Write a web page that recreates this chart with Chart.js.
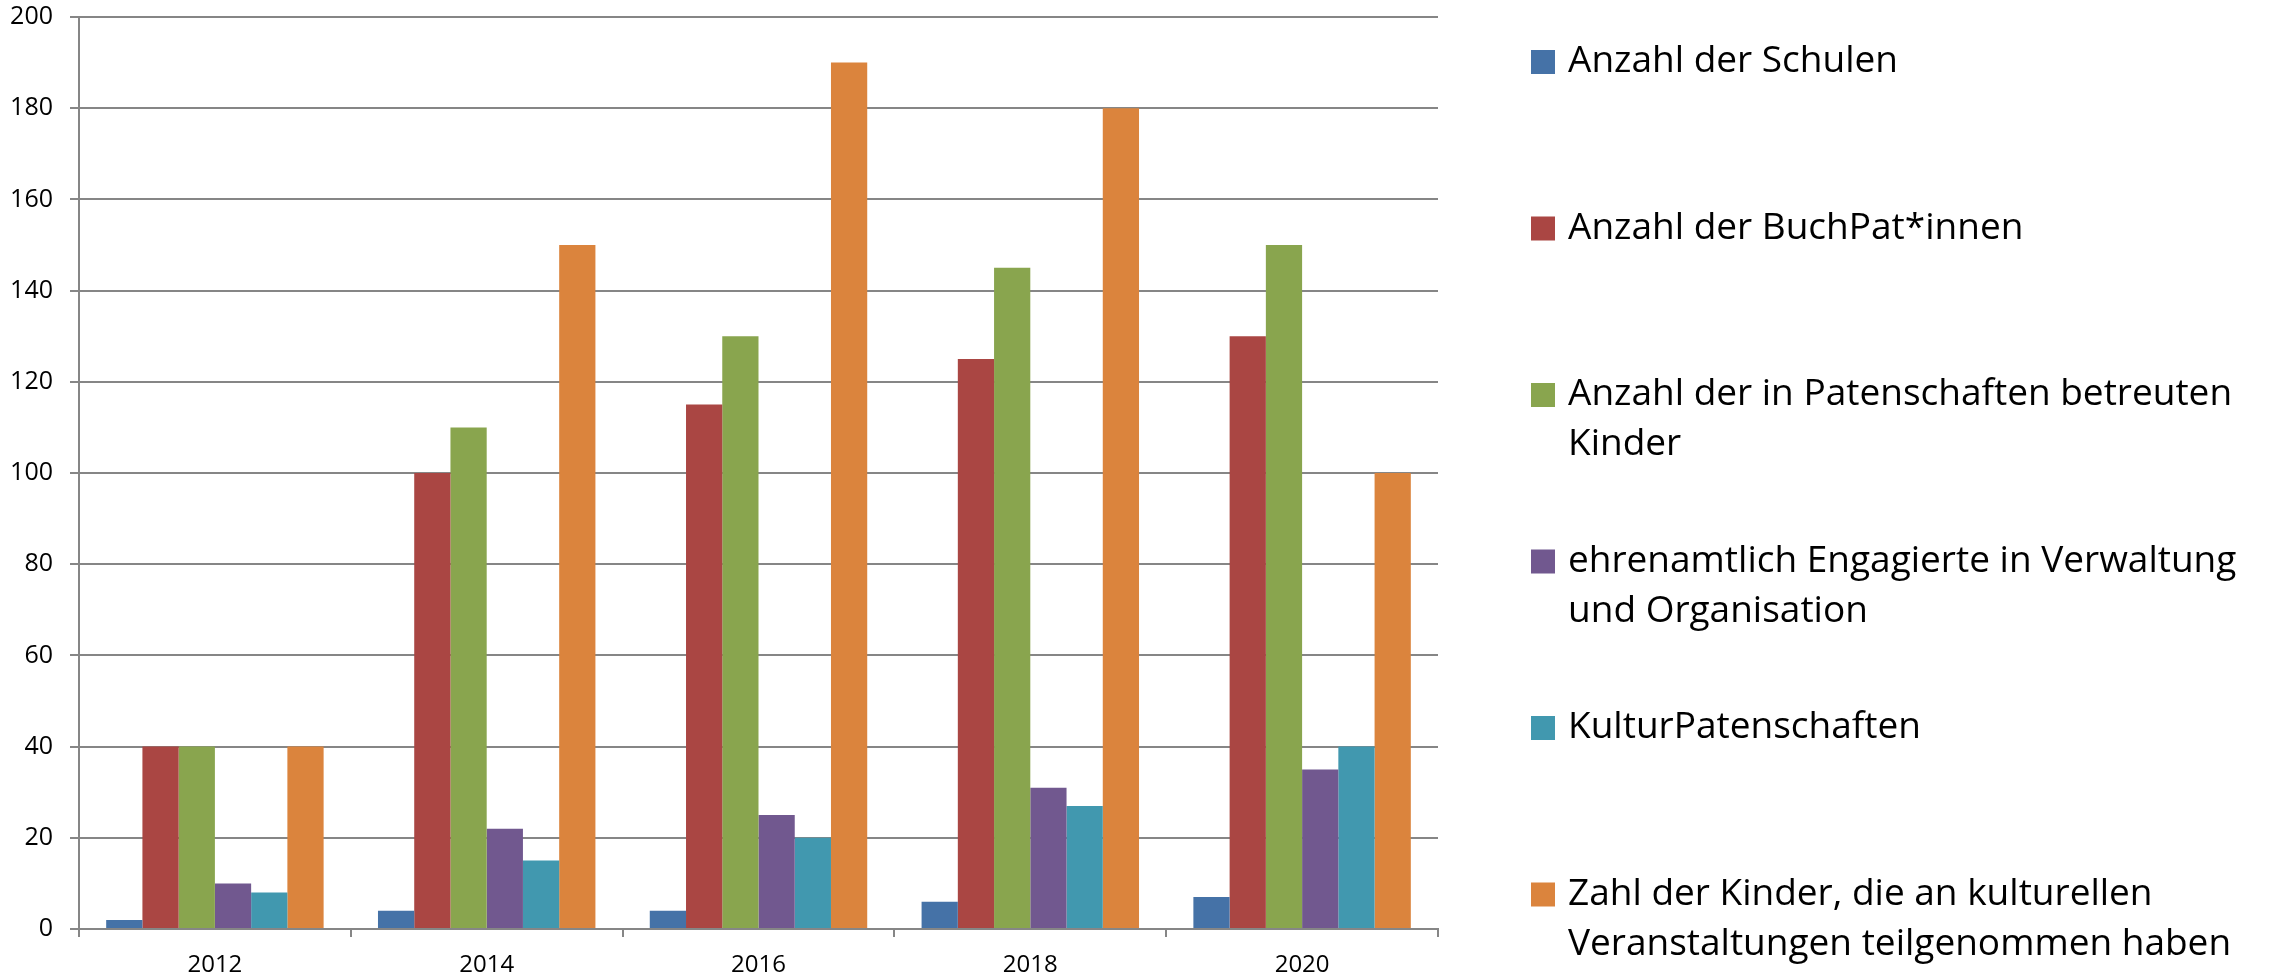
<!DOCTYPE html>
<html lang="de">
  <head>
    <meta charset="UTF-8" />
    <title>BuchPaten: Entwicklung 2012-2020</title>
    <!-- chart.js cdn -->
    <script src="https://cdn.jsdelivr.net/npm/chart.js@4.4.1/dist/chart.umd.min.js"></script>
    <style>
      html, body { margin: 0; padding: 0; background: #fff; }
      canvas { display: block; }
    </style>
  </head>
  <body>
    <canvas id="myChart" width="2270" height="977"></canvas>

    <script>
      // values
      const years = ['2012', '2014', '2016', '2018', '2020'];
      const schulen = [2, 4, 4, 6, 7];
      const buchPaten = [40, 100, 115, 125, 130];
      const betreuteKinder = [40, 110, 130, 145, 150];
      const ehrenamtliche = [10, 22, 25, 31, 35];
      const kulturPatenschaften = [8, 15, 20, 27, 40];
      const kinderVeranstaltungen = [40, 150, 190, 180, 100];

      const yMin = 0;
      const yMax = 200;
      const yStep = 20;

      // legend text, split the way the original wraps it
      const legendLines = [
        ['Anzahl der Schulen'],
        ['Anzahl der BuchPat*innen'],
        ['Anzahl der in Patenschaften betreuten', 'Kinder'],
        ['ehrenamtlich Engagierte in Verwaltung', 'und Organisation'],
        ['KulturPatenschaften'],
        ['Zahl der Kinder, die an kulturellen', 'Veranstaltungen teilgenommen haben']
      ];

      const colors = ['#4572A7', '#AA4643', '#89A54E', '#71588F', '#4198AF', '#DB843D'];
      const series = [schulen, buchPaten, betreuteKinder, ehrenamtliche, kulturPatenschaften, kinderVeranstaltungen];

      const gridColor = '#868686';
      const font = '"Open Sans", "DejaVu Sans", sans-serif';

      // legend on the right, fixed pitch like the original
      const sideLegend = {
        id: 'sideLegend',
        afterDraw(chart) {
          const ctx = chart.ctx;
          const x0 = chart.chartArea.right + 93;
          ctx.save();
          ctx.font = '37px ' + font;
          ctx.textBaseline = 'alphabetic';
          chart.data.datasets.forEach((ds, i) => {
            const cy = 62 + i * 166.5;
            ctx.fillStyle = ds.backgroundColor;
            ctx.fillRect(x0, cy - 12, 24, 24);
            ctx.fillStyle = '#000';
            legendLines[i].forEach((line, j) => {
              ctx.fillText(line, x0 + 37, cy + 10 + j * 50);
            });
          });
          ctx.restore();
        }
      };

      window.addEventListener('load', setup);

      function setup() {
        const ctx = document.getElementById('myChart').getContext('2d');
        const myChart = new Chart(ctx, {
          type: 'bar',
          data: {
            labels: years,
            datasets: series.map((values, i) => ({
              label: legendLines[i].join(' '),
              data: values,
              backgroundColor: colors[i],
              borderWidth: 0,
              categoryPercentage: 0.8,
              barPercentage: 1.0
            }))
          },
          options: {
            responsive: false,
            animation: false,
            layout: {
              padding: { top: 17, right: 832, left: 0, bottom: 0 }
            },
            plugins: {
              legend: { display: false },
              tooltip: { enabled: false }
            },
            scales: {
              x: {
                grid: {
                  offset: true,
                  drawOnChartArea: false,
                  drawTicks: true,
                  tickLength: 8,
                  color: gridColor,
                  lineWidth: 2
                },
                border: { color: gridColor, width: 2 },
                ticks: {
                  color: '#000',
                  padding: 14,
                  font: { family: font, size: 24 }
                },
                afterFit(scale) { scale.height = 48; }
              },
              y: {
                min: yMin,
                max: yMax,
                grid: {
                  color: gridColor,
                  lineWidth: 2,
                  tickLength: 9
                },
                border: { color: gridColor, width: 2 },
                ticks: {
                  stepSize: yStep,
                  color: '#000',
                  padding: 17,
                  font: { family: font, size: 25 }
                },
                afterFit(scale) {
                  scale.width = 79;
                  // tick padding would otherwise push the plot top down
                  scale.paddingTop = 0;
                  scale.paddingBottom = 0;
                }
              }
            }
          },
          plugins: [sideLegend]
        });
      }
    </script>
  </body>
</html>
